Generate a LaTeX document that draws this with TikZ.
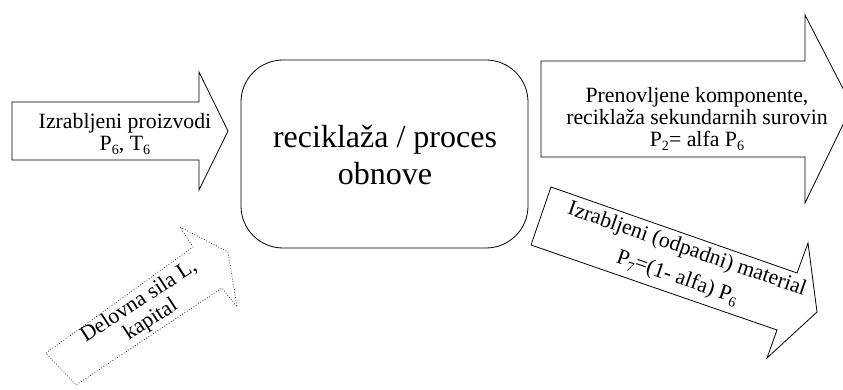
\documentclass[tikz,border=0pt]{standalone}
\usepackage{fontspec}
\setmainfont{Liberation Serif}
\newcommand\sbs[1]{\raisebox{-0.45ex}{\scalebox{0.65}{#1}}}
\tikzset{
  outline/.style={draw, line width=0.8pt, line join=miter},
  dotline/.style={draw, line width=0.7pt, dotted, line join=miter},
  smalltxt/.style={align=center, inner sep=0pt, font=\fontsize{21.8}{22}\selectfont},
  bigtxt/.style={align=center, inner sep=0pt, font=\fontsize{32}{37}\selectfont}
}
\begin{document}
\begin{tikzpicture}[x=1pt, y=-1pt]
\useasboundingbox (0,0) rectangle (843,390);
\clip (0,0) rectangle (843,390);

% incoming arrow: worn-out products
\draw[outline] (12,102) -- (199,102) -- (199,72) -- (228,131) -- (199,190)
  -- (199,160) -- (12,160) -- cycle;
\node[smalltxt] (inprod) at (125,134) {Izrabljeni proizvodi\\P\sbs{6}, T\sbs{6}};

% central process
\draw[outline, rounded corners=42pt] (241,60) rectangle (528,248);
\node[bigtxt] (proc) at (385,155) {reciklaža / proces\\obnove};

% outgoing arrow: renewed components
\draw[outline] (541,61) -- (805,61) -- (805,15) -- (852,106) -- (805,203)
  -- (805,157) -- (541,157) -- cycle;
\node[smalltxt] (renew) at (697,119)
  {Prenovljene komponente,\\reciklaža sekundarnih surovin\\P\sbs{2}= alfa P\sbs{6}};

% outgoing arrow: waste material
\draw[outline] (551,187) -- (797,273) -- (808,243) -- (817,312) -- (767,358)
  -- (777,330) -- (531,245) -- cycle;
\node[smalltxt, rotate=-19, font=\fontsize{21.8}{30}\selectfont] (waste) at (682,264)
  {Izrabljeni (odpadni) material\\P\sbs{7}=(1- alfa) P\sbs{6}};

% incoming arrow: labour and capital (dotted)
\draw[dotline] (46,353) -- (193,247) -- (180,227) -- (228,252) -- (237,307)
  -- (222,288) -- (76,385) -- cycle;
\node[smalltxt, rotate=33] (labour) at (145,311) {Delovna sila L,\\kapital};
\end{tikzpicture}
\end{document}
